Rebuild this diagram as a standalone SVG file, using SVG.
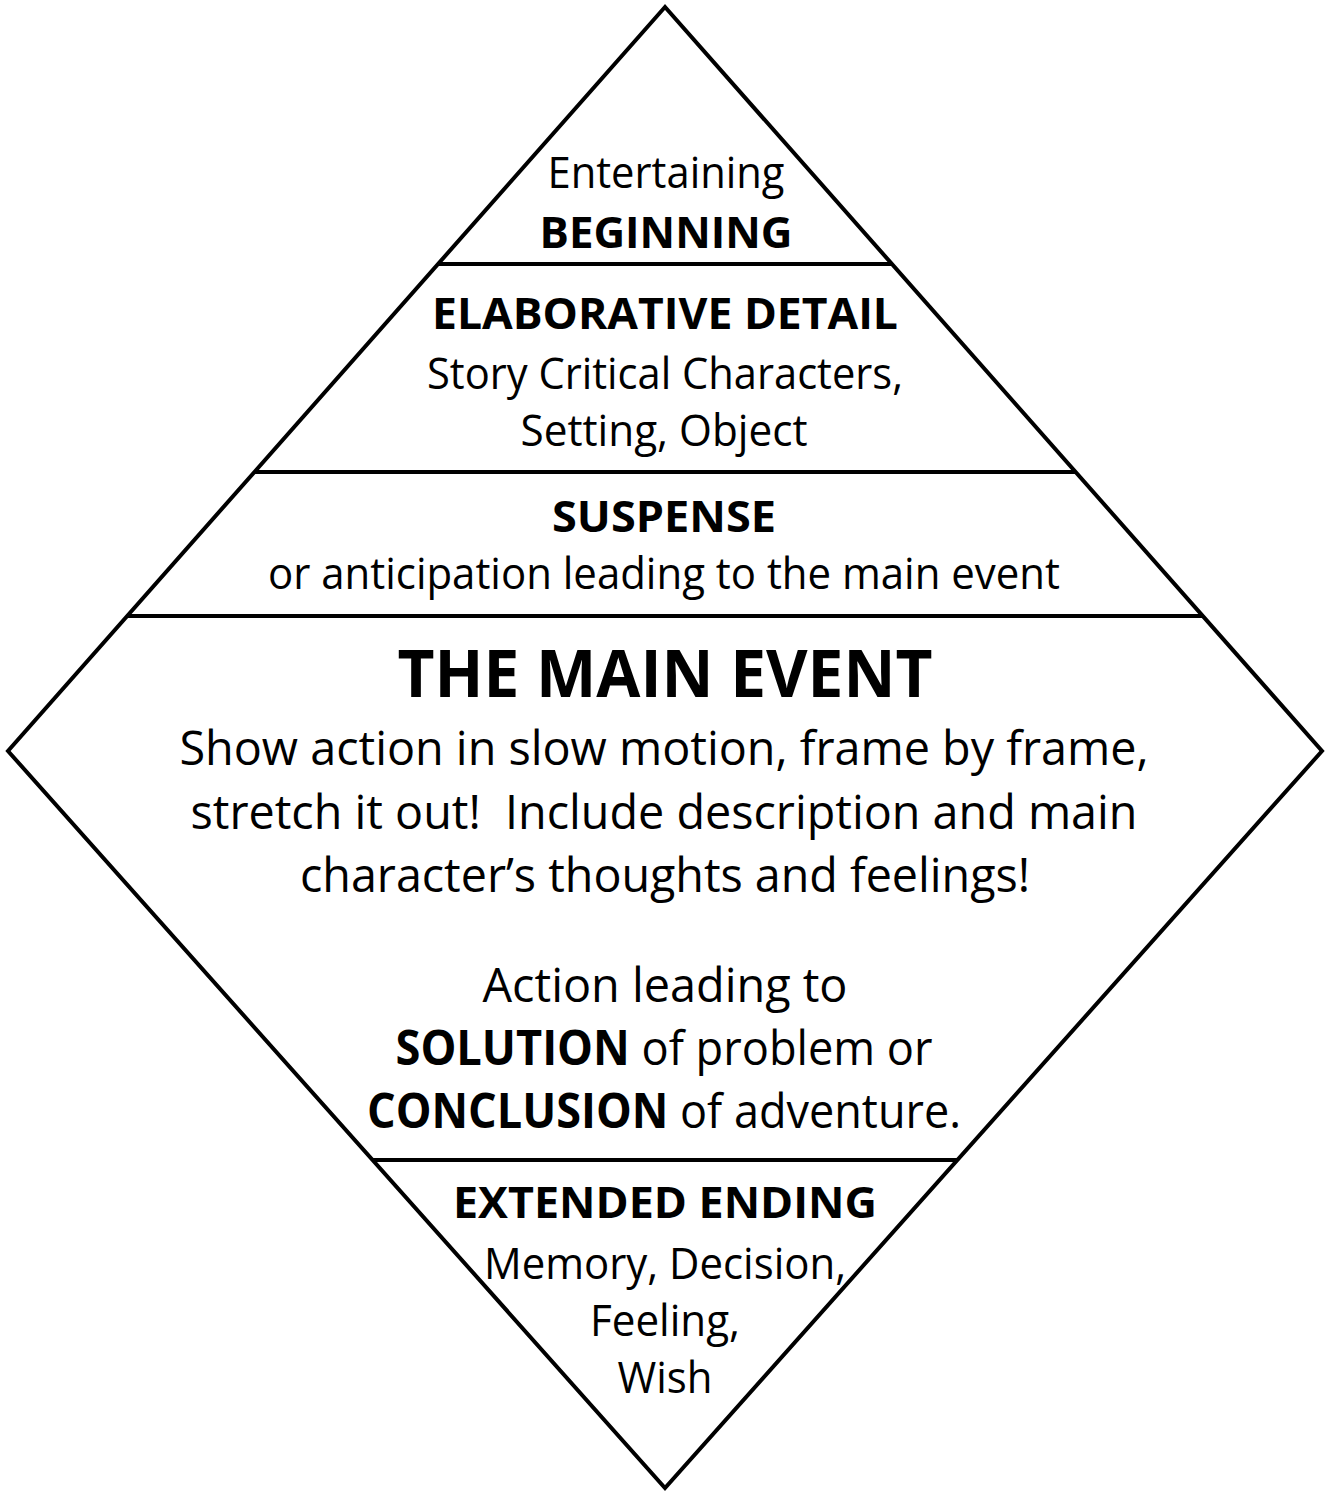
<svg xmlns="http://www.w3.org/2000/svg" width="1330" height="1491" viewBox="0 0 1330 1491">
<style>
.t{font-family:"Open Sans","Noto Sans","Liberation Sans",sans-serif;fill:#000;text-anchor:middle;font-size:43px;white-space:pre}
.b{font-weight:bold}
.m{font-size:48px}
.big{font-size:67px;font-weight:bold}
.ln{stroke:#000;stroke-width:4;fill:none}
</style>
<rect width="1330" height="1491" fill="#fff"/>
<g id="shape">
<polygon class="ln" points="665,7 8,751 665,1488 1322,751" stroke-linejoin="miter"/>
</g>
<g id="connectors">
<line class="ln" x1="438" y1="264" x2="892" y2="264"/>
<line class="ln" x1="254" y1="472" x2="1076" y2="472"/>
<line class="ln" x1="127" y1="616" x2="1203" y2="616"/>
<line class="ln" x1="372" y1="1160" x2="958" y2="1160"/>
</g>
<g id="beginning">
<text class="t" x="666" y="188" textLength="237" lengthAdjust="spacingAndGlyphs">Entertaining</text>
<text class="t b" x="666" y="248" textLength="253" lengthAdjust="spacingAndGlyphs">BEGINNING</text>
</g>
<g id="elaborative-detail">
<text class="t b" x="665" y="329" textLength="466" lengthAdjust="spacingAndGlyphs">ELABORATIVE DETAIL</text>
<text class="t" x="665" y="389" textLength="476" lengthAdjust="spacingAndGlyphs">Story Critical Characters,</text>
<text class="t" x="664" y="446" textLength="287" lengthAdjust="spacingAndGlyphs">Setting, Object</text>
</g>
<g id="suspense">
<text class="t b" x="664" y="532" textLength="224" lengthAdjust="spacingAndGlyphs">SUSPENSE</text>
<text class="t" x="664" y="589" textLength="792" lengthAdjust="spacingAndGlyphs">or anticipation leading to the main event</text>
</g>
<g id="main-event">
<text class="t big" x="665" y="697" textLength="535" lengthAdjust="spacingAndGlyphs">THE MAIN EVENT</text>
<text class="t m" x="664" y="765" textLength="969" lengthAdjust="spacingAndGlyphs">Show action in slow motion, frame by frame,</text>
<text class="t m" x="664" y="829" textLength="947" lengthAdjust="spacingAndGlyphs">stretch it out!  Include description and main</text>
<text class="t m" x="665" y="892" textLength="730" lengthAdjust="spacingAndGlyphs">character’s thoughts and feelings!</text>
<text class="t m" x="665" y="1002" textLength="365" lengthAdjust="spacingAndGlyphs">Action leading to</text>
<text class="t m" x="664" y="1065" textLength="537" lengthAdjust="spacingAndGlyphs"><tspan class="b">SOLUTION</tspan> of problem or</text>
<text class="t m" x="664" y="1128" textLength="594" lengthAdjust="spacingAndGlyphs"><tspan class="b">CONCLUSION</tspan> of adventure.</text>
</g>
<g id="extended-ending">
<text class="t b" x="665" y="1218" textLength="424" lengthAdjust="spacingAndGlyphs">EXTENDED ENDING</text>
<text class="t" x="665" y="1279" textLength="362" lengthAdjust="spacingAndGlyphs">Memory, Decision,</text>
<text class="t" x="665" y="1336" textLength="150" lengthAdjust="spacingAndGlyphs">Feeling,</text>
<text class="t" x="665" y="1393" textLength="95" lengthAdjust="spacingAndGlyphs">Wish</text>
</g>
</svg>
